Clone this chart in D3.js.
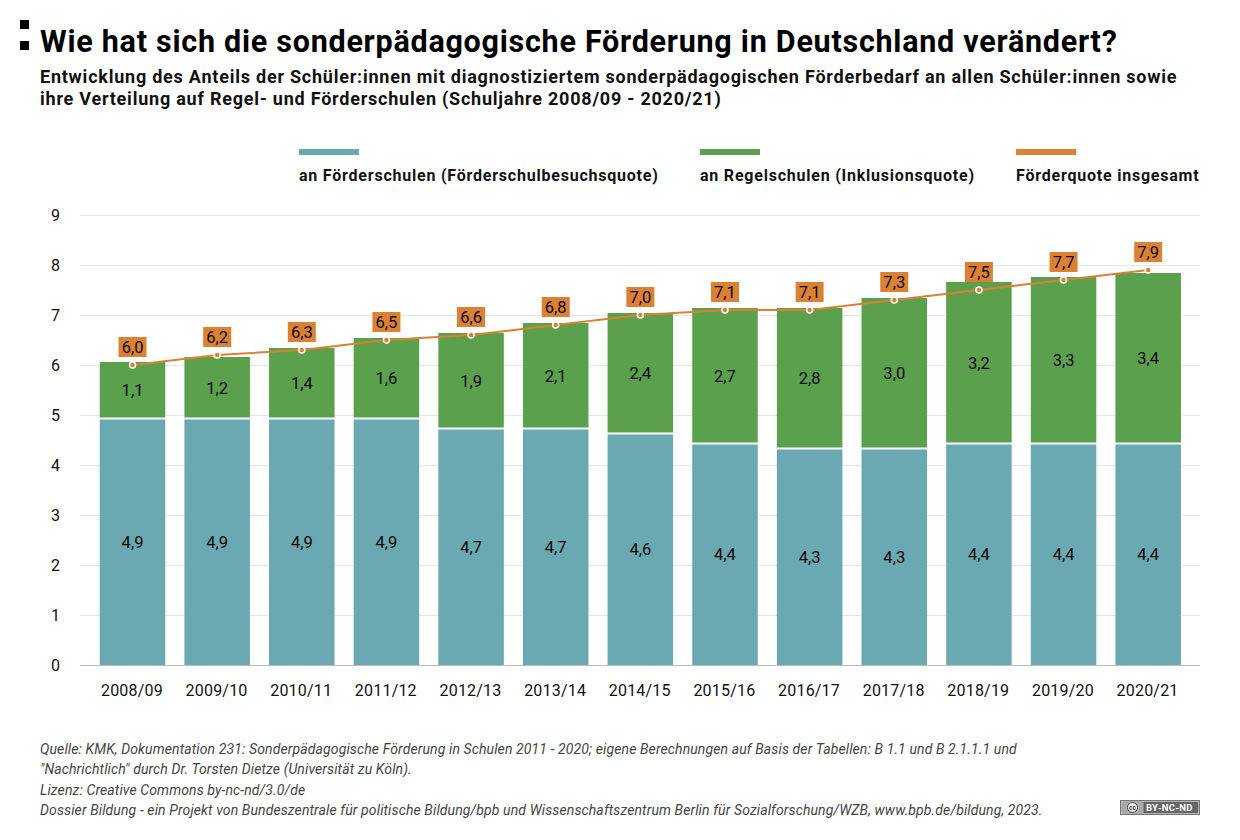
<!DOCTYPE html>
<html><head><meta charset="utf-8">
<script src="https://cdn.jsdelivr.net/npm/d3@7"></script>
<style>html,body{margin:0;background:#fff}svg{display:block}text{font-family:Roboto,sans-serif}</style>
</head><body><svg id="c" width="1240" height="840"></svg>
<script>
const years=["2008/09","2009/10","2010/11","2011/12","2012/13","2013/14","2014/15","2015/16","2016/17","2017/18","2018/19","2019/20","2020/21"];
const foerderschulen=[4.92,4.92,4.92,4.92,4.72,4.72,4.62,4.42,4.32,4.32,4.42,4.42,4.42];
const regelschulen=[1.14,1.24,1.42,1.62,1.92,2.12,2.42,2.72,2.82,3.02,3.24,3.34,3.42];
const insgesamt=[6.0,6.2,6.3,6.5,6.6,6.8,7.0,7.1,7.1,7.3,7.5,7.7,7.9];
const yTicks=[0,1,2,3,4,5,6,7,8,9];
const legendLabels=["an Förderschulen (Förderschulbesuchsquote)","an Regelschulen (Inklusionsquote)","Förderquote insgesamt"];
const colors=["#6aa8b2","#5ba04c","#dc8133"];
const title="Wie hat sich die sonderpädagogische Förderung in Deutschland verändert?";
const subtitle=["Entwicklung des Anteils der Schüler:innen mit diagnostiziertem sonderpädagogischen Förderbedarf an allen Schüler:innen sowie","ihre Verteilung auf Regel- und Förderschulen (Schuljahre 2008/09 - 2020/21)"];
const footer=["Quelle: KMK, Dokumentation 231: Sonderpädagogische Förderung in Schulen 2011 - 2020; eigene Berechnungen auf Basis der Tabellen: B 1.1 und B 2.1.1.1 und","\"Nachrichtlich\" durch Dr. Torsten Dietze (Universität zu Köln).","Lizenz: Creative Commons by-nc-nd/3.0/de","Dossier Bildung - ein Projekt von Bundeszentrale für politische Bildung/bpb und Wissenschaftszentrum Berlin für Sozialforschung/WZB, www.bpb.de/bildung, 2023."];
const fmt=v=>d3.format(".1f")(v).replace(".",",");
const svg=d3.select("#c");
const x=d3.scaleBand().domain(years).range([90.2,1190.5]).paddingInner(0.226).paddingOuter(0.113);
const y=d3.scaleLinear().domain([0,9]).range([665,215]);

// Header
svg.append("rect").attr("x",20).attr("y",20).attr("width",9).attr("height",9);
svg.append("rect").attr("x",20).attr("y",41).attr("width",9).attr("height",9);
svg.append("text").attr("x",40).attr("y",52).attr("font-size",30.5).attr("font-weight",700).attr("letter-spacing",0.74).attr("fill","#000").text(title);
svg.selectAll("text.sub").data(subtitle).join("text").attr("class","sub").attr("x",40)
 .attr("y",(d,i)=>83+i*22).attr("font-size",18).attr("font-weight",700).attr("letter-spacing",0.77).attr("fill","#111").text(d=>d);

// Legend
const legX=[299,700,1016];
legendLabels.forEach((l,i)=>{
 svg.append("rect").attr("x",legX[i]).attr("y",149).attr("width",60).attr("height",6).attr("fill",colors[i]);
 svg.append("text").attr("x",legX[i]).attr("y",181).attr("font-size",16).attr("font-weight",700).attr("letter-spacing",0.78).attr("fill","#111").text(l);
});

// Grid + axes
const gridG=svg.append("g")
 .call(d3.axisLeft(y).tickValues(yTicks).tickSize(0).tickPadding(0));
gridG.select(".domain").remove();
gridG.selectAll("text").attr("x",60).attr("font-size",16).attr("font-family","Roboto").attr("fill","#111");
gridG.selectAll("g.tick line").remove();
gridG.selectAll("g.tick").append("line").attr("x1",80).attr("x2",1200).attr("stroke",d=>d===0?"#bbb":"#e6e6e6").attr("stroke-width",1);
const xAx=svg.append("g").attr("transform","translate(0,665)").call(d3.axisBottom(x).tickSize(0).tickPadding(20));
xAx.select(".domain").remove();
xAx.selectAll("text").attr("font-size",16).attr("letter-spacing",0.2).attr("dx",-0.6).attr("font-family","Roboto").attr("fill","#111");

// Bars
const rows=years.map((yr,i)=>({yr,a:foerderschulen[i],b:regelschulen[i],t:insgesamt[i]}));
svg.append("g").selectAll("rect").data(rows).join("rect")
 .attr("x",d=>x(d.yr)).attr("width",x.bandwidth()).attr("y",d=>y(d.a)+.5).attr("height",d=>y(0)-y(d.a)-.5).attr("fill",colors[0]);
svg.append("g").selectAll("rect").data(rows).join("rect")
 .attr("x",d=>x(d.yr)).attr("width",x.bandwidth()).attr("y",d=>y(d.a+d.b)).attr("height",d=>y(d.a)-y(d.a+d.b)-1.5).attr("fill",colors[1]);
const cx=d=>x(d.yr)+x.bandwidth()/2;
svg.append("g").selectAll("text").data(rows).join("text").attr("x",cx).attr("y",d=>(y(0)+y(d.a))/2+5.5)
 .attr("text-anchor","middle").attr("font-size",16.5).attr("fill","#0a0a0a").text(d=>fmt(d.a));
svg.append("g").selectAll("text").data(rows).join("text").attr("x",cx).attr("y",d=>(y(d.a)+y(d.a+d.b))/2+5.5)
 .attr("text-anchor","middle").attr("font-size",16.5).attr("fill","#0a0a0a").text(d=>fmt(d.b));

// Line
svg.append("path").datum(rows).attr("fill","none").attr("stroke",colors[2]).attr("stroke-width",2)
 .attr("d",d3.line().x(cx).y(d=>y(d.t)));
svg.append("g").selectAll("circle").data(rows).join("circle").attr("cx",cx).attr("cy",d=>y(d.t)).attr("r",3)
 .attr("fill",colors[2]).attr("stroke","#fff").attr("stroke-width",1.5);
const lab=svg.append("g").selectAll("g").data(rows).join("g").attr("transform",d=>`translate(${cx(d)},${y(d.t)-18})`);
lab.append("rect").attr("x",-14).attr("y",-10).attr("width",28).attr("height",20).attr("fill",colors[2]);
lab.append("text").attr("text-anchor","middle").attr("y",5.5).attr("font-size",16.5).attr("fill","#0a0a0a").text(d=>fmt(d.t));

// Footer
svg.selectAll("text.foot").data(footer).join("text").attr("class","foot").attr("x",40).attr("y",(d,i)=>754+i*20.4)
 .attr("font-size",14).attr("font-style","italic").attr("letter-spacing",0.12).attr("fill","#444").text(d=>d);

// CC badge
const b=svg.append("g").attr("transform","translate(1120,800)");
b.append("rect").attr("x",.5).attr("y",.5).attr("width",79).attr("height",14).attr("fill","#fff").attr("stroke","#777");
b.append("rect").attr("x",1.5).attr("y",1.5).attr("width",77).attr("height",12).attr("fill","#666");
b.append("rect").attr("x",1.5).attr("y",1.5).attr("width",22).attr("height",12).attr("fill","#aaa");
b.append("circle").attr("cx",12.5).attr("cy",7.5).attr("r",5).attr("fill","#eee").attr("stroke","#444");
b.append("text").attr("x",12.5).attr("y",10).attr("text-anchor","middle").attr("font-size",6.5).attr("font-weight",700).attr("fill","#444").text("cc");
b.append("text").attr("x",26).attr("y",11).attr("font-size",9.5).attr("font-weight",700).attr("letter-spacing",.3).attr("fill","#fff").text("BY-NC-ND");
</script></body></html>
